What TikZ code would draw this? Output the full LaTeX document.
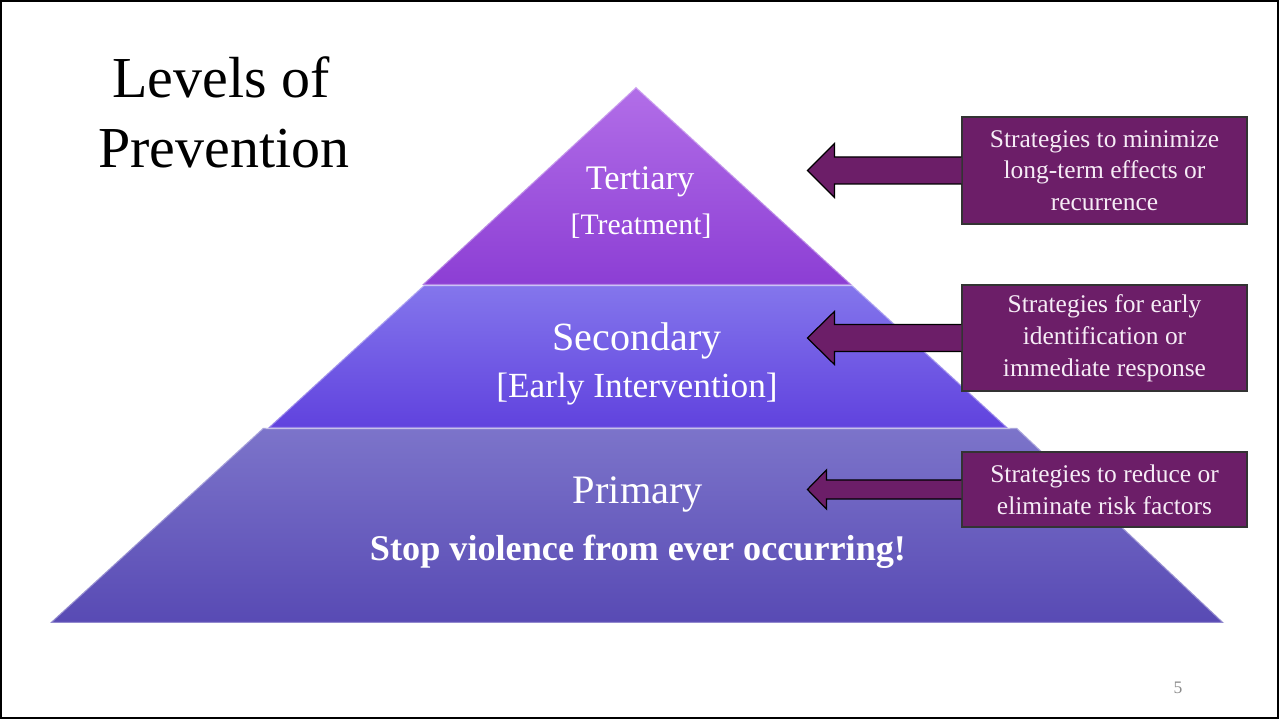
\documentclass[tikz,border=0pt]{standalone}
\usepackage{fontspec}
\setmainfont{Liberation Serif}
\usetikzlibrary{calc}
\definecolor{plum}{RGB}{108,30,104}
\definecolor{boxtext}{RGB}{246,236,246}
\definecolor{tertT}{RGB}{178,110,232}
\definecolor{tertB}{RGB}{140,62,212}
\definecolor{secT}{RGB}{132,118,236}
\definecolor{secB}{RGB}{96,66,222}
\definecolor{priT}{RGB}{124,116,202}
\definecolor{priB}{RGB}{88,74,180}
\tikzset{
  tier/.style={draw=white, draw opacity=0.35, line width=1.2pt, line join=miter},
  stratbox/.style={draw=black!80, line width=0.7pt, fill=plum, text=boxtext, align=center,
    minimum width=5.7cm, minimum height=#1, inner sep=0pt,
    font=\fontsize{14.5pt}{18.1pt}\selectfont},
  blockarrow/.style={draw=black, line width=0.7pt, fill=plum, line join=miter},
  tierlabel/.style={text=white, anchor=base, inner sep=0pt},
}
\begin{document}
\begin{tikzpicture}[x=0.02cm,y=-0.02cm]
\path[fill=white,use as bounding box] (0,0) rectangle (1279,719);
\draw[line width=1.3pt] (1,1) rectangle (1278,718);
% title
\node[anchor=base,inner sep=0pt,font=\fontsize{33pt}{40pt}\selectfont] (title1) at (221,98) {Levels of};
\node[anchor=base,inner sep=0pt,font=\fontsize{33pt}{40pt}\selectfont] (title2) at (224,168) {Prevention};
% pyramid tiers
\path[tier, top color=priT, bottom color=priB] (263,428) -- (1017,428) -- (1224,623) -- (50,623) -- cycle;
\path[tier, top color=secT, bottom color=secB] (424,285) -- (852,285) -- (1008,428) -- (268,428) -- cycle;
\path[tier, top color=tertT, bottom color=tertB] (636,87) -- (852,285) -- (422,285) -- cycle;
% tier labels
\node[tierlabel,font=\fontsize{19.6pt}{22pt}\selectfont] (tert) at (640,190) {Tertiary};
\node[tierlabel,font=\fontsize{16.9pt}{20pt}\selectfont] (treat) at (641,235) {[Treatment]};
\node[tierlabel,font=\fontsize{22.8pt}{26pt}\selectfont] (sec) at (637,351) {Secondary};
\node[tierlabel,font=\fontsize{20.1pt}{24pt}\selectfont] (early) at (637,398) {[Early Intervention]};
\node[tierlabel,font=\fontsize{23pt}{26pt}\selectfont] (prim) at (638,504) {Primary};
\node[tierlabel,font=\bfseries\fontsize{20.6pt}{24pt}\selectfont] (stop) at (638,561) {Stop violence from ever occurring!};
% boxes
\node[stratbox=2.14cm] (box1) at (1104.5,170.5) {Strategies to minimize\\long-term effects or\\recurrence};
\node[stratbox=2.12cm] (box2) at (1104.5,338) {Strategies for early\\identification or\\immediate response};
\node[stratbox=1.5cm] (box3) at (1104.5,489.5) {Strategies to reduce or\\eliminate risk factors};
% arrows
\draw[blockarrow] ($(box1.west)+(0,-13.5)$) -- ($(box1.west)+(-127,-13.5)$) -- ($(box1.west)+(-127,-27)$)
  -- ($(box1.west)+(-154,0)$) -- ($(box1.west)+(-127,27)$) -- ($(box1.west)+(-127,13.5)$) -- ($(box1.west)+(0,13.5)$);
\draw[blockarrow] ($(box2.west)+(0,-13.5)$) -- ($(box2.west)+(-127,-13.5)$) -- ($(box2.west)+(-127,-26.5)$)
  -- ($(box2.west)+(-154,0)$) -- ($(box2.west)+(-127,26.5)$) -- ($(box2.west)+(-127,13.5)$) -- ($(box2.west)+(0,13.5)$);
\draw[blockarrow] ($(box3.west)+(0,-9.5)$) -- ($(box3.west)+(-135,-9.5)$) -- ($(box3.west)+(-135,-19.5)$)
  -- ($(box3.west)+(-154,0)$) -- ($(box3.west)+(-135,19.5)$) -- ($(box3.west)+(-135,9.5)$) -- ($(box3.west)+(0,9.5)$);
% page number
\node[text=black!45,font=\fontsize{10pt}{12pt}\selectfont,inner sep=0pt] (pg) at (1178,688) {5};
\end{tikzpicture}
\end{document}
